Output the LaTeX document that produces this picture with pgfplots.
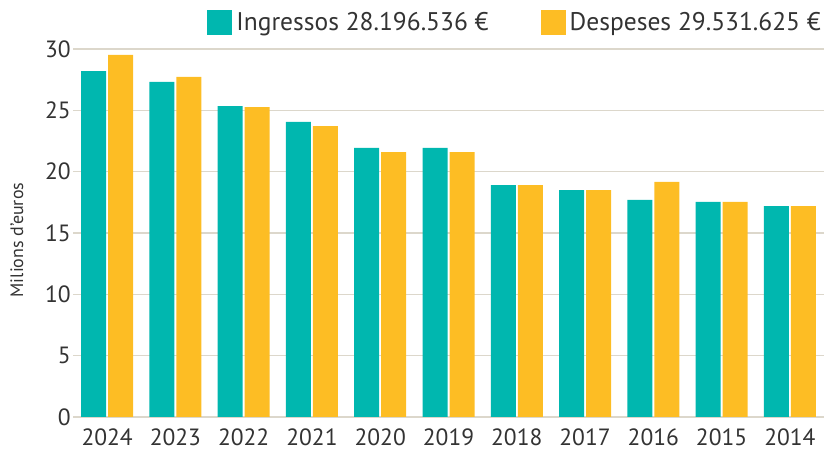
\documentclass[border=0pt]{standalone}
\usepackage{pgfplots}
\pgfplotsset{compat=1.18}
\usepackage{fontspec}
\setmainfont{PT Sans}
\definecolor{teal1}{HTML}{00B7AF}
\definecolor{gold1}{HTML}{FDBD24}
\definecolor{gridc}{HTML}{DCD7CB}
\definecolor{txt}{HTML}{333333}
\begin{document}
\begin{tikzpicture}[x=1pt,y=1pt]
\useasboundingbox (0,0) rectangle (824,454);
\begin{axis}[
  at={(73pt,37pt)}, anchor=south west,
  scale only axis, width=751pt, height=368pt,
  xmin=-0.5, xmax=10.5, ymin=0, ymax=30,
  xtick={0,...,10},
  xticklabels={2024,2023,2022,2021,2020,2019,2018,2017,2016,2015,2014},
  ytick={0,5,...,30},
  ymajorgrids, grid style={gridc, line width=1.3pt},
  axis line style={draw=none},
  major tick length=0pt,
  tick style={draw=none},
  /pgf/number format/assume math mode=true,
  ticklabel style={font=\fontsize{23.5}{26}\selectfont, text=txt},
  yticklabel style={anchor=east, inner sep=0pt, xshift=-2pt},
  xticklabel style={anchor=north, inner sep=0pt, yshift=-12pt},
  ylabel={Milions d'euros},
  ylabel style={at={(axis description cs:-0.0746,0.481)}, anchor=center, font=\fontsize{18}{21}\selectfont, text=txt},
  legend columns=2,
  legend style={at={(1,1)}, anchor=east, yshift=26.5pt, xshift=-1pt, draw=none, fill=none, inner sep=0pt,
    font=\fontsize{25.5}{28}\selectfont, text=txt,
    /tikz/every even column/.append style={column sep=50pt},
    /tikz/every odd column/.append style={column sep=2pt}},
  legend cell align=left,
  legend image code/.code={\fill[#1] (0pt,-12.5pt) rectangle (25pt,12.5pt);},
]
\addplot[ybar, bar width=25pt, bar shift=-13.5pt, fill=teal1, draw=none] coordinates {
(0,28.2) (1,27.31) (2,25.35) (3,24.05) (4,21.93) (5,21.93) (6,18.91) (7,18.5) (8,17.69) (9,17.53) (10,17.2)};
\addlegendentry{Ingressos 28.196.536 €}
\addplot[ybar, bar width=25pt, bar shift=13.5pt, fill=gold1, draw=none] coordinates {
(0,29.53) (1,27.72) (2,25.27) (3,23.72) (4,21.6) (5,21.6) (6,18.91) (7,18.5) (8,19.16) (9,17.53) (10,17.2)};
\addlegendentry{Despeses 29.531.625 €}
\end{axis}
\end{tikzpicture}
\end{document}
